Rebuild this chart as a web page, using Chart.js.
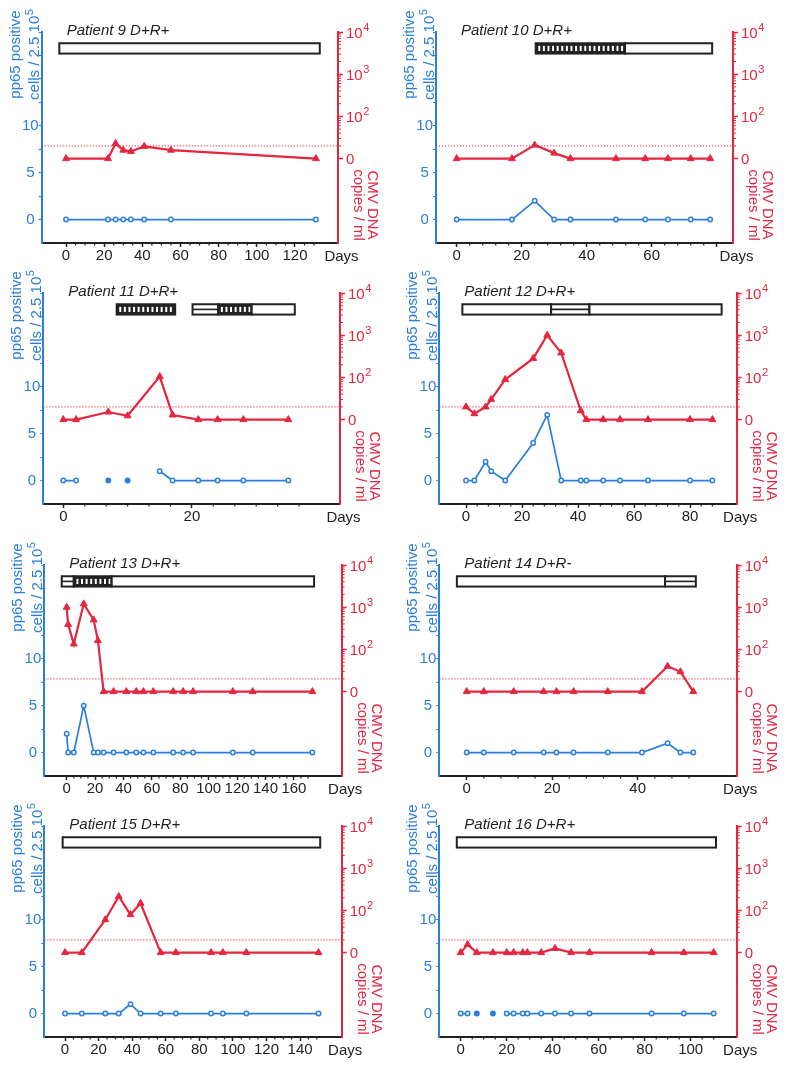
<!DOCTYPE html>
<html>
<head>
<meta charset="utf-8">
<script src="https://cdn.jsdelivr.net/npm/chart.js@4.4.1/dist/chart.umd.min.js"></script>
<style>
  body { margin: 0; background: #fff; width: 785px; height: 1069px; position: relative; overflow: hidden; }
  .panel { position: absolute; }
  .panel canvas { display: block; }
</style>
</head>
<body>
<script>
const FONT = "'Liberation Sans', Arial, Helvetica, sans-serif";
const BLUE = '#2a7fdc';
const RED = '#e5263f';
const INK = '#222';

// axis texts (second item of a pair is a superscript)
const pp65Title = [['pp65 positive', ''], ['cells / 2.5 10', '5']];
const dnaTitle = ['CMV DNA', 'copies / ml'];
const xTitle = 'Days';
const pp65TickValues = [0, 2.5, 5, 7.5, 10, 12.5, 15, 17.5, 20];
const pp65TickLabels = [0, 5, 10];
// DNA is kept as log10(copies/ml); 1 is the "0" (not detected) level
const dnaTickValues = [1, 2, 3, 4];
const dnaTickLabels = [['0', ''], ['10', '2'], ['10', '3'], ['10', '4']];
const detectionLimit = 20; // copies / ml, dotted line

// Patient 9
const p9Days = [0, 22, 26, 30, 34, 41, 55, 131];
const p9Pp65 = [0, 0, 0, 0, 0, 0, 0, 0];
const p9Dna = [1, 1, 1.36, 1.2, 1.17, 1.29, 1.2, 1];
const p9Therapy = [[-3.5, 133, 'open']];
const p9Ticks = [0, 20, 40, 60, 80, 100, 120];

// Patient 10
const p10Days = [0, 17, 24, 30, 35, 49, 58, 65, 72, 78];
const p10Pp65 = [0, 0, 2, 0, 0, 0, 0, 0, 0, 0];
const p10Dna = [1, 1, 1.32, 1.13, 1, 1, 1, 1, 1, 1];
const p10Therapy = [[24.3, 51.8, 'striped'], [51.8, 78.6, 'open']];
const p10Ticks = [0, 20, 40, 60, 80];
const p10TickLabels = ['0', '20', '40', '60', ''];

// Patient 11 (filled = single measurement, not joined)
const p11Days = [0, 2, 7, 10, 15, 17, 21, 24, 28, 35];
const p11Pp65 = [0, 0, 0, 0, 1, 0, 0, 0, 0, 0];
const p11Filled = [0, 0, 1, 1, 0, 0, 0, 0, 0, 0];
const p11Dna = [1, 1, 1.18, 1.09, 2.02, 1.11, 1, 1, 1, 1];
const p11Therapy = [[8.3, 17.4, 'striped'], [20.1, 24.1, 'double'], [24.1, 29.3, 'striped'], [29.3, 36, 'open']];
const p11Ticks = [0, 20];

// Patient 12
const p12Days = [0, 3, 7, 9, 14, 24, 29, 34, 41, 43, 49, 55, 65, 80, 88];
const p12Pp65 = [0, 0, 2, 1, 0, 4, 7, 0, 0, 0, 0, 0, 0, 0, 0];
const p12Dna = [1.3, 1.14, 1.3, 1.48, 1.95, 2.45, 3.0, 2.58, 1.21, 1, 1, 1, 1, 1, 1];
const p12Therapy = [[-1.3, 30.4, 'open'], [30.4, 44.1, 'double'], [44.1, 91.3, 'open']];
const p12Ticks = [0, 20, 40, 60, 80];

// Patient 13
const p13Days = [0, 1, 5, 12, 19, 22, 26, 33, 42, 49, 54, 61, 75, 82, 89, 117, 131, 173];
const p13Pp65 = [2, 0, 0, 5, 0, 0, 0, 0, 0, 0, 0, 0, 0, 0, 0, 0, 0, 0];
const p13Dna = [3.0, 2.59, 2.13, 3.08, 2.7, 2.21, 1, 1, 1, 1, 1, 1, 1, 1, 1, 1, 1, 1];
const p13Therapy = [[-3.5, 5, 'double'], [5, 31.7, 'striped'], [31.7, 174.2, 'open']];
const p13Ticks = [0, 20, 40, 60, 80, 100, 120, 140, 160];

// Patient 14
const p14Days = [0, 4, 11, 18, 21, 25, 33, 41, 47, 50, 53];
const p14Pp65 = [0, 0, 0, 0, 0, 0, 0, 0, 1, 0, 0];
const p14Dna = [1, 1, 1, 1, 1, 1, 1, 1, 1.6, 1.47, 1];
const p14Therapy = [[-2.3, 46.4, 'open'], [46.4, 53.6, 'double']];
const p14Ticks = [0, 20, 40];

// Patient 15
const p15Days = [0, 10, 24, 32, 39, 45, 57, 66, 87, 94, 108, 151];
const p15Pp65 = [0, 0, 0, 0, 1, 0, 0, 0, 0, 0, 0, 0];
const p15Dna = [1, 1, 1.78, 2.33, 1.9, 2.17, 1, 1, 1, 1, 1, 1];
const p15Therapy = [[-1.4, 152, 'open']];
const p15Ticks = [0, 20, 40, 60, 80, 100, 120, 140];

// Patient 16
const p16Days = [0, 3, 7, 14, 20, 23, 27, 29, 35, 41, 48, 56, 83, 97, 110];
const p16Pp65 = [0, 0, 0, 0, 0, 0, 0, 0, 0, 0, 0, 0, 0, 0, 0];
const p16Filled = [0, 0, 1, 1, 0, 0, 0, 0, 0, 0, 0, 0, 0, 0, 0];
const p16Dna = [1, 1.19, 1, 1, 1, 1, 1, 1, 1, 1.1, 1, 1, 1, 1, 1];
const p16Therapy = [[-1.7, 111, 'open']];
const p16Ticks = [0, 20, 40, 60, 80, 100];

// layout of the 8 panels
const rowTops = [32, 293, 565, 826];
const plotH = 211;
const padTop = 32, axisBottom = 24, canvasH = padTop + plotH + axisBottom;
const barTop = 18.8, barBottom = 17.7;
const rightLabelGap = 8;

const panels = [
  { title: 'Patient 9 D+R+', days: p9Days, pp65: p9Pp65, dna: p9Dna, therapy: p9Therapy, ticks: p9Ticks,
    col: 0, row: 0, left: 41.7, right: 338, zero: 66, pxDay: 1.908, minorStep: 5, minorEnd: 130 },
  { title: 'Patient 10 D+R+', days: p10Days, pp65: p10Pp65, dna: p10Dna, therapy: p10Therapy, ticks: p10Ticks, tickLabels: p10TickLabels,
    col: 1, row: 0, left: 436, right: 733, zero: 456.7, pxDay: 3.25, minorStep: 4, minorEnd: 80 },
  { title: 'Patient 11 D+R+', days: p11Days, pp65: p11Pp65, dna: p11Dna, filled: p11Filled, therapy: p11Therapy, ticks: p11Ticks,
    col: 0, row: 1, left: 43.3, right: 340, zero: 63.3, pxDay: 6.43, minorStep: 10 / 3, minorEnd: 36.7 },
  { title: 'Patient 12 D+R+', days: p12Days, pp65: p12Pp65, dna: p12Dna, therapy: p12Therapy, ticks: p12Ticks,
    col: 1, row: 1, left: 439.3, right: 736.7, zero: 466, pxDay: 2.8, minorStep: 4, minorEnd: 88 },
  { title: 'Patient 13 D+R+', days: p13Days, pp65: p13Pp65, dna: p13Dna, therapy: p13Therapy, ticks: p13Ticks,
    col: 0, row: 2, left: 44.3, right: 341.7, zero: 66.7, pxDay: 1.42, minorStep: 5, minorEnd: 170 },
  { title: 'Patient 14 D+R-', days: p14Days, pp65: p14Pp65, dna: p14Dna, therapy: p14Therapy, ticks: p14Ticks,
    col: 1, row: 2, left: 439.3, right: 736.7, zero: 466.7, pxDay: 4.275, minorStep: 4, minorEnd: 52 },
  { title: 'Patient 15 D+R+', days: p15Days, pp65: p15Pp65, dna: p15Dna, therapy: p15Therapy, ticks: p15Ticks,
    col: 0, row: 3, left: 44.3, right: 341.7, zero: 65, pxDay: 1.679, minorStep: 5, minorEnd: 150 },
  { title: 'Patient 16 D+R+', days: p16Days, pp65: p16Pp65, dna: p16Dna, filled: p16Filled, therapy: p16Therapy, ticks: p16Ticks,
    col: 1, row: 3, left: 439.3, right: 736.7, zero: 460.7, pxDay: 2.3, minorStep: 5, minorEnd: 110 }
];

function line(ctx, x0, y0, x1, y1) {
  ctx.beginPath(); ctx.moveTo(x0, y0); ctx.lineTo(x1, y1); ctx.stroke();
}

// text with a raised exponent; x is the left edge, or the centre when centred
function supText(ctx, base, exp, x, y, centred) {
  ctx.font = '15px ' + FONT;
  const wb = ctx.measureText(base).width;
  ctx.font = '11px ' + FONT;
  const we = exp ? ctx.measureText(exp).width + 0.5 : 0;
  const x0 = centred ? x - (wb + we) / 2 : x;
  ctx.textAlign = 'left';
  ctx.font = '15px ' + FONT;
  ctx.fillText(base, x0, y);
  if (exp) {
    ctx.font = '11px ' + FONT;
    ctx.fillText(exp, x0 + wb + 0.5, y - 5.5);
  }
}

function drawTherapy(ctx, xs, ys, segs) {
  const yT = ys.getPixelForValue(barTop), yB = ys.getPixelForValue(barBottom);
  const h = yB - yT;
  segs.forEach(([s, e, kind]) => {
    const x0 = xs.getPixelForValue(s), x1 = xs.getPixelForValue(e);
    ctx.fillStyle = '#fff';
    ctx.fillRect(x0, yT, x1 - x0, h);
    if (kind === 'striped') {
      ctx.fillStyle = INK;
      ctx.fillRect(x0, yT, x1 - x0, h);
      ctx.fillStyle = '#fff';
      for (let x = x0 + 2.6; x < x1 - 2.8; x += 4.6) ctx.fillRect(x, yT + 2.6, 2, h - 5.2);
    }
    if (kind === 'double') {
      ctx.strokeStyle = INK; ctx.lineWidth = 1.6;
      line(ctx, x0, yT + h / 2, x1, yT + h / 2);
    }
    ctx.strokeStyle = INK; ctx.lineWidth = 2;
    ctx.strokeRect(x0, yT, x1 - x0, h);
  });
}

panels.forEach(p => {
  const cx = p.col ? 392 : 0, cw = p.col ? 393 : 392;
  const cy = rowTops[p.row] - padTop;
  const xMin = (p.left - p.zero) / p.pxDay, xMax = (p.right - p.zero) / p.pxDay;

  const div = document.createElement('div');
  div.className = 'panel';
  div.style.left = cx + 'px'; div.style.top = cy + 'px';
  const canvas = document.createElement('canvas');
  canvas.width = cw; canvas.height = canvasH;
  canvas.style.width = cw + 'px'; canvas.style.height = canvasH + 'px';
  div.appendChild(canvas);
  document.body.appendChild(div);

  const decor = {
    id: 'decor',
    beforeDatasetsDraw(chart) {
      const ctx = chart.ctx;
      ctx.save();
      drawTherapy(ctx, chart.scales.x, chart.scales.y, p.therapy);
      ctx.restore();
    },
    afterDraw(chart) {
      const ctx = chart.ctx, a = chart.chartArea;
      const xs = chart.scales.x, y2 = chart.scales.y2;
      ctx.save();
      // minor day ticks
      ctx.strokeStyle = INK; ctx.lineWidth = 1.2;
      for (let d = p.minorStep; d <= p.minorEnd + 0.01; d += p.minorStep) {
        if (p.ticks.some(t => Math.abs(t - d) < 0.05)) continue;
        const x = xs.getPixelForValue(d);
        line(ctx, x, a.bottom, x, a.bottom + 2.5);
      }
      // minor log ticks on the DNA axis
      ctx.strokeStyle = RED; ctx.lineWidth = 1;
      for (let n = 1; n < 4; n++) {
        for (let k = 2; k < 10; k++) {
          const y = y2.getPixelForValue(n + Math.log10(k));
          line(ctx, a.right, y, a.right + 3, y);
        }
      }
      ctx.textBaseline = 'middle';
      // DNA tick labels
      ctx.fillStyle = RED;
      dnaTickValues.forEach((v, i) => {
        const [b, e] = dnaTickLabels[i];
        supText(ctx, b, e, a.right + rightLabelGap, y2.getPixelForValue(v) + 1.5, false);
      });
      // patient label
      ctx.fillStyle = INK; ctx.textAlign = 'left';
      ctx.font = 'italic 15px ' + FONT;
      ctx.fillText(p.title, a.left + 25, a.top - 1.5);
      // Days
      ctx.font = '15px ' + FONT;
      ctx.textAlign = 'center';
      ctx.fillText(xTitle, a.right + 3.5, a.bottom + 14);
      // left axis title
      ctx.fillStyle = BLUE;
      [-26, -6.5].forEach((dx, i) => {
        ctx.save();
        ctx.translate(a.left + dx, a.top + 22.5);
        ctx.rotate(-Math.PI / 2);
        supText(ctx, pp65Title[i][0], pp65Title[i][1], 0, 0, true);
        ctx.restore();
      });
      // right axis title
      ctx.fillStyle = RED;
      ctx.font = '15px ' + FONT;
      ctx.textAlign = 'center';
      [[34, dnaTitle[0]], [20, dnaTitle[1]]].forEach(([dx, t]) => {
        ctx.save();
        ctx.translate(a.right + dx, a.top + 173);
        ctx.rotate(Math.PI / 2);
        ctx.fillText(t, 0, 0);
        ctx.restore();
      });
      ctx.restore();
    }
  };

  const filled = p.filled || [];
  new Chart(canvas, {
    type: 'line',
    data: {
      datasets: [
        {
          label: 'CMV DNA',
          yAxisID: 'y2',
          data: p.days.map((d, i) => ({ x: d, y: p.dna[i] })),
          borderColor: RED, backgroundColor: RED,
          borderWidth: 2.2,
          pointStyle: 'triangle', pointRadius: 4, pointBorderWidth: 1,
          pointBackgroundColor: RED, pointBorderColor: RED
        },
        {
          label: 'pp65',
          yAxisID: 'y',
          data: p.days.map((d, i) => ({ x: d, y: p.pp65[i] })),
          borderColor: BLUE, borderWidth: 1.7,
          pointStyle: 'circle', pointRadius: 2.2, pointBorderWidth: 1.5,
          pointBorderColor: BLUE,
          pointBackgroundColor: c => filled[c.dataIndex] ? BLUE : '#fff',
          segment: {
            borderColor: c => (filled[c.p0DataIndex] || filled[c.p1DataIndex]) ? 'rgba(0,0,0,0)' : BLUE
          }
        },
        {
          label: 'limit',
          yAxisID: 'y2',
          data: [{ x: xMin, y: Math.log10(detectionLimit) }, { x: xMax, y: Math.log10(detectionLimit) }],
          borderColor: RED, borderWidth: 1, borderDash: [1.2, 1.8],
          pointRadius: 0
        }
      ]
    },
    options: {
      responsive: false,
      animation: false,
      layout: { padding: { top: padTop, left: 0, right: 0, bottom: 0 } },
      plugins: { legend: { display: false }, tooltip: { enabled: false } },
      scales: {
        x: {
          type: 'linear', min: xMin, max: xMax,
          afterBuildTicks: s => { s.ticks = p.ticks.map(v => ({ value: v })); },
          afterFit: s => { s.height = axisBottom; },
          grid: { drawOnChartArea: false, tickLength: 4, tickColor: INK, tickWidth: 1.5 },
          border: { color: INK, width: 2 },
          ticks: {
            color: INK, font: { family: FONT, size: 15 }, padding: 0, maxRotation: 0, autoSkip: false,
            callback: (v, i) => p.tickLabels ? p.tickLabels[i] : String(v)
          }
        },
        y: {
          type: 'linear', position: 'left', min: -2.5, max: 20,
          afterBuildTicks: s => { s.ticks = pp65TickValues.map(v => ({ value: v })); },
          afterFit: s => { s.width = p.left - cx; },
          grid: { drawOnChartArea: false, tickLength: 3, tickColor: BLUE, tickWidth: 1.2 },
          border: { color: BLUE, width: 2 },
          ticks: {
            color: BLUE, font: { family: FONT, size: 15 }, padding: 0, autoSkip: false, crossAlign: 'center',
            callback: v => pp65TickLabels.includes(v) ? String(v) : ''
          }
        },
        y2: {
          type: 'linear', position: 'right', min: -1, max: 4,
          afterBuildTicks: s => { s.ticks = dnaTickValues.map(v => ({ value: v })); },
          afterFit: s => { s.width = cx + cw - p.right; },
          grid: { drawOnChartArea: false, tickLength: 5, tickColor: RED, tickWidth: 1.5 },
          border: { color: RED, width: 2 },
          // labels with raised exponents are drawn by the decor plugin
          ticks: { display: false }
        }
      }
    },
    plugins: [decor]
  });
});
</script>
</body>
</html>
